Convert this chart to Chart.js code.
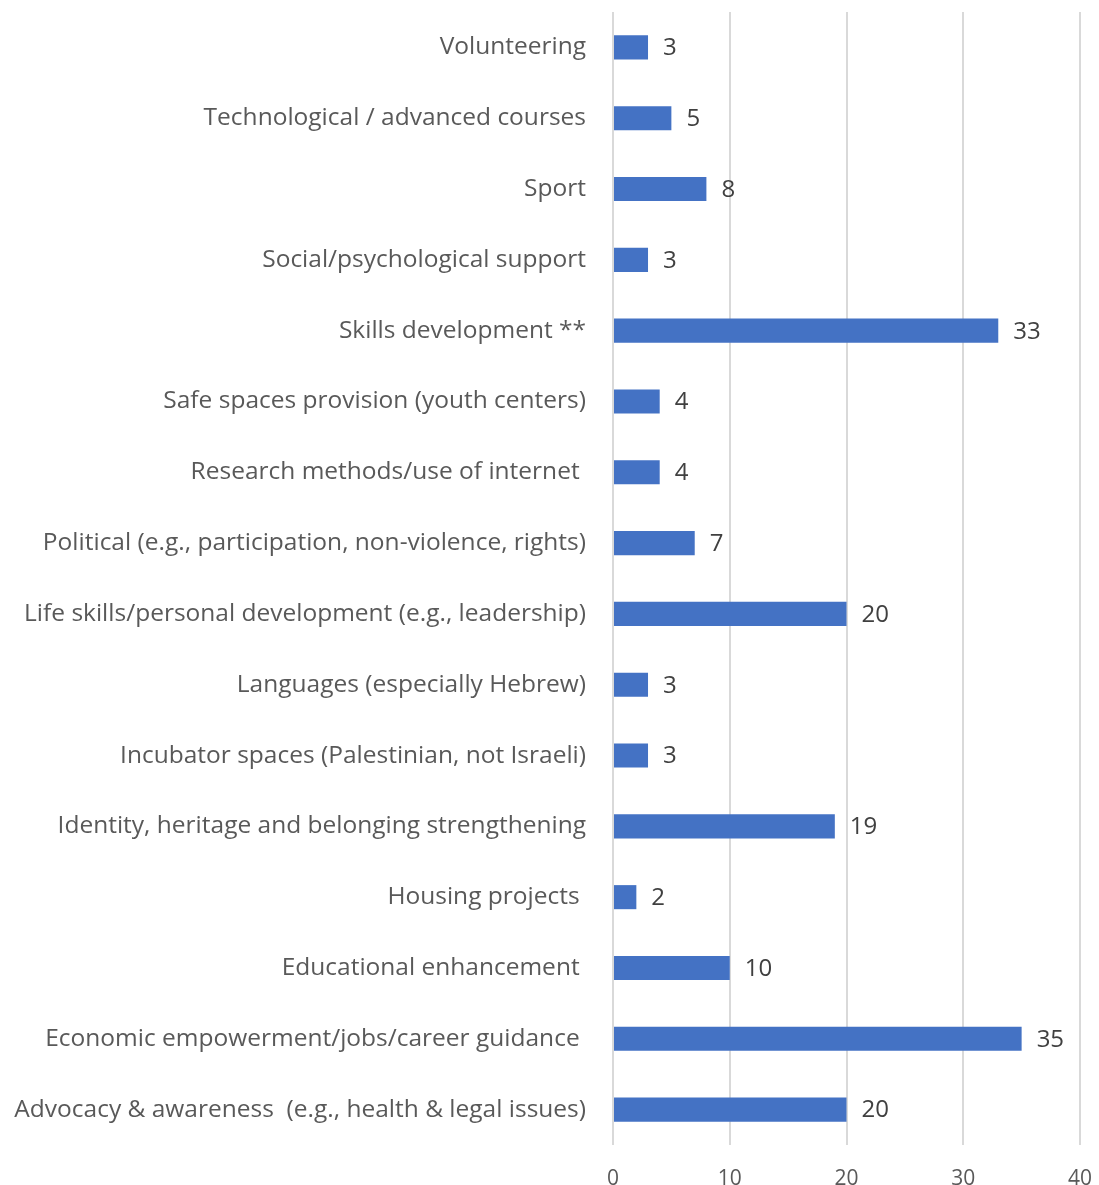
<!DOCTYPE html>
<html>
<head>
<meta charset="utf-8">
<script src="https://cdn.jsdelivr.net/npm/chart.js@4"></script>
<style>
  body { margin: 0; background: #fff; }
  #wrap { width: 1099px; height: 1185px; }
</style>
</head>
<body>
<div id="wrap"><canvas id="chart" width="1099" height="1185"></canvas></div>
<script>
// categories top to bottom, as shown
const categories = [
  "Volunteering",
  "Technological / advanced courses",
  "Sport",
  "Social/psychological support",
  "Skills development **",
  "Safe spaces provision (youth centers)",
  "Research methods/use of internet ",
  "Political (e.g., participation, non-violence, rights)",
  "Life skills/personal development (e.g., leadership)",
  "Languages (especially Hebrew)",
  "Incubator spaces (Palestinian, not Israeli)",
  "Identity, heritage and belonging strengthening",
  "Housing projects ",
  "Educational enhancement ",
  "Economic empowerment/jobs/career guidance ",
  "Advocacy & awareness  (e.g., health & legal issues)"
];
const counts = [3, 5, 8, 3, 33, 4, 4, 7, 20, 3, 3, 19, 2, 10, 35, 20];
const xTicks = [0, 10, 20, 30, 40];

const fontFamily = "'Open Sans', 'Noto Sans', sans-serif";

// value labels to the right of each bar
const valueLabels = {
  id: "valueLabels",
  afterDatasetsDraw(chart) {
    const ctx = chart.ctx;
    const meta = chart.getDatasetMeta(0);
    ctx.save();
    ctx.font = "24px " + fontFamily;
    ctx.fillStyle = "#404040";
    ctx.textAlign = "left";
    ctx.textBaseline = "middle";
    meta.data.forEach((bar, i) => {
      ctx.fillText(String(counts[i]), bar.x + 15, bar.y + 1);
    });
    ctx.restore();
  }
};

new Chart(document.getElementById("chart"), {
  type: "bar",
  data: {
    labels: categories,
    datasets: [{
      data: counts,
      backgroundColor: "#4472C4",
      barPercentage: 0.34,
      categoryPercentage: 1
    }]
  },
  options: {
    indexAxis: "y",
    responsive: false,
    animation: false,
    layout: { padding: { top: 12, right: 19, bottom: 0, left: 0 } },
    plugins: {
      legend: { display: false },
      tooltip: { enabled: false }
    },
    scales: {
      x: {
        min: 0,
        max: 40,
        afterBuildTicks(scale) {
          scale.ticks = xTicks.map(v => ({ value: v }));
        },
        afterFit(scale) {
          scale.height = 40;
          scale.paddingLeft = 0;
          scale.paddingRight = 0;
        },
        grid: { color: "#d9d9d9", lineWidth: 2, drawTicks: false },
        border: { display: false },
        ticks: {
          padding: 21,
          color: "#595959",
          font: { size: 21, family: fontFamily }
        }
      },
      y: {
        afterFit(scale) {
          scale.width = 613;
          scale.paddingTop = 0;
          scale.paddingBottom = 0;
        },
        grid: { display: false },
        border: { display: false },
        ticks: {
          padding: 19,
          color: "#595959",
          font: { size: 24.5, family: fontFamily },
          autoSkip: false
        }
      }
    }
  },
  plugins: [valueLabels]
});
</script>
</body>
</html>
